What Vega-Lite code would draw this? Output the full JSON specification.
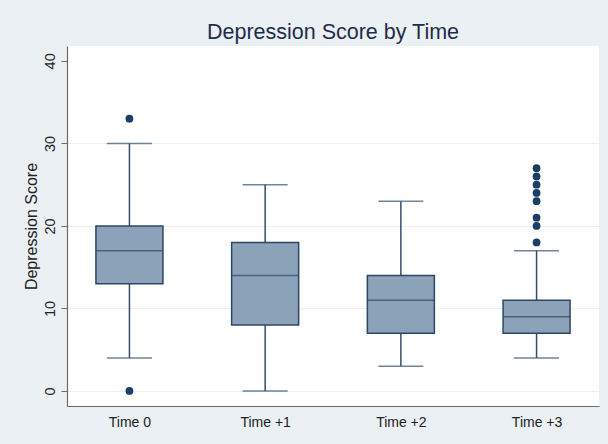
{
  "$schema": "https://vega.github.io/schema/vega-lite/v6.json",
  "width": 532,
  "height": 360,
  "autosize": "none",
  "padding": {"left": 67, "top": 46, "right": 9, "bottom": 38},
  "background": "#eaf0f3",
  "view": {"fill": "white", "stroke": null},
  "title": {
    "text": "Depression Score by Time",
    "font": "Liberation Sans",
    "fontSize": 21.5,
    "fontWeight": "normal",
    "color": "#1f2d4a",
    "anchor": "middle",
    "offset": 3
  },
  "config": {
    "font": "Liberation Sans",
    "axis": {
      "labelFont": "Liberation Sans",
      "titleFont": "Liberation Sans",
      "labelColor": "#222222",
      "titleColor": "#222222",
      "labelFontSize": 14.5,
      "titleFontSize": 16,
      "titleFontWeight": "normal",
      "domainColor": "#6b6b6b",
      "tickColor": "#6b6b6b"
    }
  },
  "datasets": {
    "boxes": [
      {"time": "Time 0", "lo": 4, "q1": 13, "median": 17, "q3": 20, "hi": 30},
      {"time": "Time +1", "lo": 0, "q1": 8, "median": 14, "q3": 18, "hi": 25},
      {"time": "Time +2", "lo": 3, "q1": 7, "median": 11, "q3": 14, "hi": 23},
      {"time": "Time +3", "lo": 4, "q1": 7, "median": 9, "q3": 11, "hi": 17}
    ],
    "outliers": [
      {"time": "Time 0", "score": 33},
      {"time": "Time 0", "score": 0},
      {"time": "Time +3", "score": 18},
      {"time": "Time +3", "score": 20},
      {"time": "Time +3", "score": 21},
      {"time": "Time +3", "score": 23},
      {"time": "Time +3", "score": 24},
      {"time": "Time +3", "score": 25},
      {"time": "Time +3", "score": 26},
      {"time": "Time +3", "score": 27}
    ]
  },
  "encoding": {
    "x": {
      "field": "time",
      "type": "nominal",
      "sort": ["Time 0", "Time +1", "Time +2", "Time +3"],
      "scale": {"type": "point", "padding": 0.46},
      "axis": {"title": null, "labelAngle": 0, "ticks": false, "labelPadding": 9, "labelFontSize": 14, "domainWidth": 1.2}
    }
  },
  "layer": [
    {
      "data": {"name": "boxes"},
      "mark": {"type": "rule", "color": "#34506e", "strokeWidth": 1.5},
      "encoding": {
        "y": {
          "field": "lo",
          "type": "quantitative",
          "scale": {"domain": [-1.82, 41.8], "nice": false, "zero": false},
          "axis": {
            "title": "Depression Score",
            "values": [0, 10, 20, 30, 40],
            "labelAngle": 270,
            "labelAlign": "center",
            "labelBaseline": "bottom",
            "labelPadding": 4,
            "tickSize": 6,
            "titlePadding": 3,
            "domainWidth": 1.2,
            "grid": true,
            "gridColor": {"condition": {"test": "datum.value == 40", "value": "transparent"}, "value": "#eaf0f3"},
            "gridWidth": 1
          }
        },
        "y2": {"field": "hi"}
      }
    },
    {
      "data": {"name": "boxes"},
      "mark": {"type": "tick", "color": "#34506e", "size": 45, "thickness": 1.5},
      "encoding": {"y": {"field": "lo", "type": "quantitative"}}
    },
    {
      "data": {"name": "boxes"},
      "mark": {"type": "tick", "color": "#34506e", "size": 45, "thickness": 1.5},
      "encoding": {"y": {"field": "hi", "type": "quantitative"}}
    },
    {
      "data": {"name": "boxes"},
      "mark": {"type": "bar", "size": 67, "fill": "#8ca2b8", "stroke": "#2c4766", "strokeWidth": 1.5},
      "encoding": {
        "y": {"field": "q1", "type": "quantitative"},
        "y2": {"field": "q3"}
      }
    },
    {
      "data": {"name": "boxes"},
      "mark": {"type": "tick", "color": "#2c4766", "size": 67, "thickness": 1.5},
      "encoding": {"y": {"field": "median", "type": "quantitative"}}
    },
    {
      "data": {"name": "outliers"},
      "mark": {"type": "point", "filled": true, "color": "#1a3e66", "opacity": 1, "size": 60},
      "encoding": {"y": {"field": "score", "type": "quantitative"}}
    }
  ]
}
